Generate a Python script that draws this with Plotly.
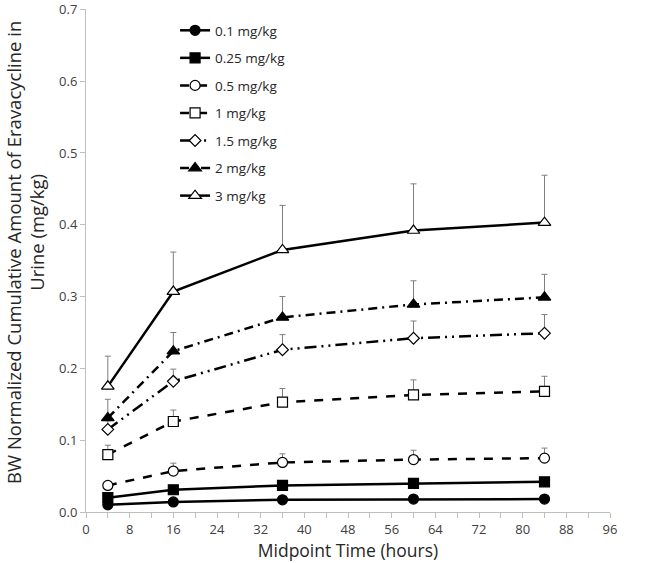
import plotly.graph_objects as go

time_h = [4, 16, 36, 60, 84]
series_names = ["0.1 mg/kg", "0.25 mg/kg", "0.5 mg/kg", "1 mg/kg", "1.5 mg/kg", "2 mg/kg", "3 mg/kg"]
v_01 = [0.010, 0.014, 0.017, 0.018, 0.018]
v_025 = [0.020, 0.031, 0.037, 0.040, 0.042]
v_05 = [0.037, 0.057, 0.069, 0.073, 0.075]
v_1 = [0.080, 0.126, 0.153, 0.163, 0.168]
v_15 = [0.115, 0.182, 0.226, 0.242, 0.249]
v_2 = [0.131, 0.224, 0.271, 0.289, 0.299]
v_3 = [0.175, 0.307, 0.365, 0.392, 0.403]
e_01 = [0.001, 0.002, 0.002, 0.002, 0.002]
e_025 = [0.002, 0.003, 0.003, 0.003, 0.003]
e_05 = [0.004, 0.011, 0.012, 0.013, 0.014]
e_1 = [0.013, 0.016, 0.019, 0.021, 0.021]
e_15 = [0.012, 0.017, 0.021, 0.024, 0.026]
e_2 = [0.026, 0.026, 0.029, 0.033, 0.032]
e_3 = [0.042, 0.055, 0.062, 0.065, 0.066]
y_ticks = [0.0, 0.1, 0.2, 0.3, 0.4, 0.5, 0.6, 0.7]
y_title_lines = ["BW Normalized Cumulative Amount of Eravacycline in", "Urine (mg/kg)"]
x_title = "Midpoint Time (hours)"

values = [v_01, v_025, v_05, v_1, v_15, v_2, v_3]
errors = [e_01, e_025, e_05, e_1, e_15, e_2, e_3]
symbols = ["circle", "square", "circle", "square", "diamond", "triangle-up", "triangle-up"]
fills = ["black", "black", "white", "white", "white", "black", "white"]
dashes = ["solid", "solid", "dash", "dash", "12px,5px,2px,5px,2px,5px", "9px,5px,2px,5px", "solid"]
msizes = [10, 10, 10, 10, 9, 11, 11]

fig = go.Figure()
for i, (name, v, e, sym, fc, d, ms) in enumerate(zip(series_names, values, errors, symbols, fills, dashes, msizes)):
    fig.add_trace(go.Scatter(
        x=time_h, y=v, name=name, mode="lines+markers", legendgroup=f"g{i}",
        line=dict(color="black", width=2.5, dash=d),
        marker=dict(symbol=sym, size=ms, color=fc, line=dict(color="black", width=1.2)),
        error_y=dict(type="data", array=e, arrayminus=[0]*len(e), symmetric=False,
                     color="#7f7f7f", thickness=1, width=3),
    ))

font_family = "Open Sans, Noto Sans, sans-serif"
fig.update_layout(
    width=650, height=563,
    margin=dict(l=86, r=40, t=9, b=51),
    paper_bgcolor="white", plot_bgcolor="white",
    font=dict(family=font_family, color="#404040"),
    showlegend=True,
    legend=dict(x=0.17, y=0.988, xanchor="left", yanchor="top",
                bgcolor="rgba(0,0,0,0)", font=dict(size=13.5, color="#262626"),
                tracegroupgap=7),
    xaxis=dict(range=[0, 96], dtick=8, tick0=0, showgrid=False, zeroline=False,
               showline=True, linecolor="#bfbfbf", linewidth=1,
               ticks="outside", ticklen=5, tickcolor="#bfbfbf", automargin=False,
               minor=dict(dtick=4, ticks="outside", ticklen=5, tickcolor="#bfbfbf"),
               tickfont=dict(size=13, color="#404040"), ticklabeloverflow="allow",
               title=dict(text=x_title, font=dict(size=17.5, color="#262626"), standoff=5)),
    yaxis=dict(range=[0, 0.7005], tickvals=y_ticks, ticktext=[f"{t:.1f}" for t in y_ticks],
               showgrid=False, zeroline=False, automargin=False,
               showline=True, linecolor="#bfbfbf", linewidth=1,
               ticks="outside", ticklen=5, tickcolor="#bfbfbf",
               tickfont=dict(size=13, color="#404040"), ticklabeloverflow="allow"),
    annotations=[
        dict(text=y_title_lines[0], xref="paper", yref="paper", x=0, y=0.515,
             xshift=-72, xanchor="center", yanchor="middle", textangle=-90,
             showarrow=False, font=dict(size=18.5, color="#262626")),
        dict(text=y_title_lines[1], xref="paper", yref="paper", x=0, y=0.555,
             xshift=-49, xanchor="center", yanchor="middle", textangle=-90,
             showarrow=False, font=dict(size=18.5, color="#262626")),
    ],
)

fig.write_html("out.html", config={"displayModeBar": False},
               post_script="document.body.style.margin='0px';")
